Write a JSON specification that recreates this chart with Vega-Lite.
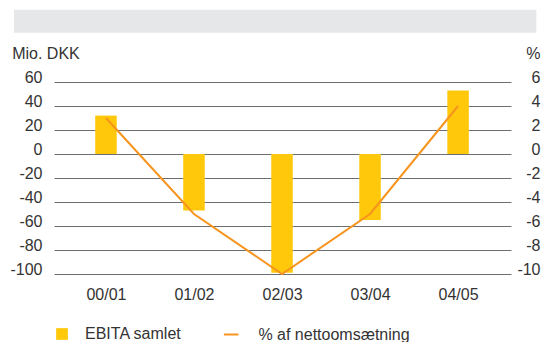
{
  "$schema": "https://vega.github.io/schema/vega-lite/v6.json",
  "width": 542,
  "height": 342,
  "autosize": "none",
  "padding": 0,
  "background": "white",
  "config": {
    "view": {"stroke": null},
    "font": "Liberation Sans",
    "axis": {
      "labelFont": "Liberation Sans",
      "labelFontSize": 16,
      "labelColor": "#333333",
      "titleFont": "Liberation Sans",
      "titleFontSize": 16,
      "titleFontWeight": "normal",
      "titleColor": "#333333",
      "ticks": false,
      "domain": false,
      "labelOverlap": false,
      "labelFlush": false,
      "labelBound": false
    },
    "legend": {
      "labelFont": "Liberation Sans",
      "labelFontSize": 16,
      "labelColor": "#333333",
      "padding": 0
    }
  },
  "data": {
    "values": [
      {"period": "00/01", "idx": 0, "ebita": 32, "pct": 3.0},
      {"period": "01/02", "idx": 1, "ebita": -47, "pct": -5.0},
      {"period": "02/03", "idx": 2, "ebita": -99, "pct": -10.0},
      {"period": "03/04", "idx": 3, "ebita": -55, "pct": -5.0},
      {"period": "04/05", "idx": 4, "ebita": 53, "pct": 4.0}
    ]
  },
  "layer": [
    {
      "layer": [
        {
          "data": {"values": [{}]},
          "mark": {"type": "rect", "color": "#e6e7e8"},
          "encoding": {
            "x": {"datum": -1.0444, "type": "quantitative"},
            "x2": {"datum": 4.8889},
            "y": {"datum": 120.25, "type": "quantitative"},
            "y2": {"datum": 101.1}
          }
        },
        {
          "mark": {"type": "bar", "orient": "vertical", "size": 21.5},
          "encoding": {
            "x": {
              "field": "idx",
              "type": "quantitative",
              "scale": {"domain": [-0.5333, 4.5444], "range": [54, 511], "nice": false, "zero": false},
              "axis": {
                "orient": "bottom",
                "offset": -68,
                "values": [0, 1, 2, 3, 4],
                "labelExpr": "['00/01','01/02','02/03','03/04','04/05'][datum.value]",
                "labelPadding": 25,
                "labelBaseline": "alphabetic",
                "labelAlign": "center",
                "grid": false,
                "title": null
              }
            },
            "y": {
              "field": "ebita",
              "type": "quantitative",
              "stack": null,
              "scale": {"domain": [-100, 60], "range": [274, 82], "nice": false, "zero": false},
              "axis": {
                "orient": "left",
                "offset": -54,
                "values": [-100, -80, -60, -40, -20, 0, 20, 40, 60],
                "labelExpr": "'' + datum.value",
                "labelPadding": 12,
                "labelAlign": "right",
                "labelBaseline": "alphabetic",
                "grid": true,
                "gridColor": "#6d6e71",
                "gridWidth": 1,
                "gridOpacity": 1,
                "title": "Mio. DKK",
                "titleAngle": 0,
                "titleAlign": "left",
                "titleBaseline": "alphabetic",
                "titleX": -42.3,
                "titleY": 58.3
              }
            },
            "y2": {"datum": 0},
            "fill": {
              "datum": "EBITA samlet",
              "scale": {"range": ["#FFC80A"]},
              "legend": {
                "orient": "none",
                "legendX": 54,
                "legendY": 326,
                "title": null,
                "symbolType": "square",
                "symbolSize": 137,
                "symbolStrokeWidth": 0,
                "labelOffset": 15
              }
            }
          }
        }
      ]
    },
    {
      "mark": {"type": "line", "strokeWidth": 2},
      "encoding": {
        "x": {"field": "idx", "type": "quantitative"},
        "y": {
          "field": "pct",
          "type": "quantitative",
          "scale": {"domain": [-10, 6], "range": [274, 82], "nice": false, "zero": false},
          "axis": {
            "orient": "right",
            "offset": -31,
            "values": [-10, -8, -6, -4, -2, 0, 2, 4, 6],
            "labelExpr": "'' + datum.value",
            "labelPadding": 29,
            "labelAlign": "right",
            "labelBaseline": "alphabetic",
            "grid": false,
            "title": "%",
            "titleAngle": 0,
            "titleAlign": "right",
            "titleBaseline": "alphabetic",
            "titleX": 29,
            "titleY": 58.3
          }
        },
        "stroke": {
          "datum": "% af nettoomsætning",
          "scale": {"range": ["#F7941D"]},
          "legend": {
            "orient": "none",
            "legendX": 222.7,
            "legendY": 326,
            "title": null,
            "symbolType": "stroke",
            "symbolSize": 213,
            "symbolStrokeWidth": 2,
            "labelOffset": 18.7
          }
        }
      }
    }
  ],
  "resolve": {"scale": {"y": "independent"}}
}
